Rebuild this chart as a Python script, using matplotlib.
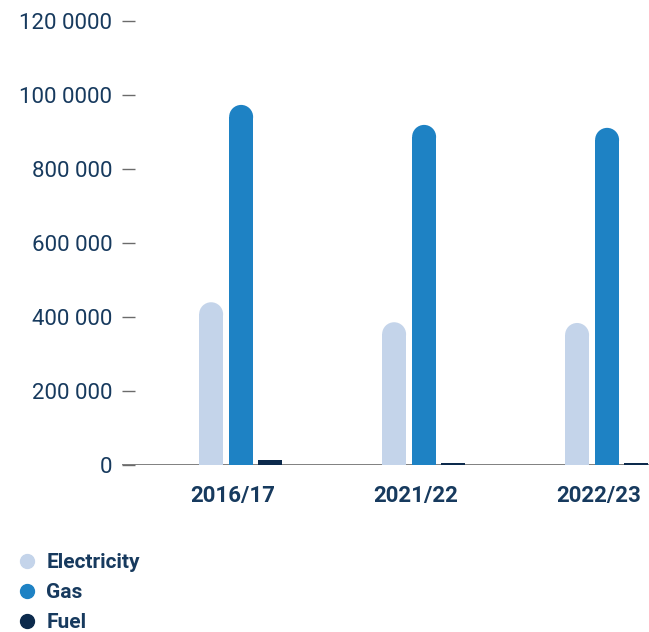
import numpy as np
import matplotlib.pyplot as plt
from matplotlib.patches import Ellipse
from matplotlib.lines import Line2D

plt.rcParams['font.family'] = ['Roboto', 'DejaVu Sans']

years = ['2016/17', '2021/22', '2022/23']
electricity = [440000, 386000, 384000]
gas = [973000, 919000, 911000]
fuel = [14000, 5000, 4500]
yticks = [0, 200000, 400000, 600000, 800000, 1000000, 1200000]
ytick_labels = ['0', '200 000', '400 000', '600 000', '800 000', '100 0000', '120 0000']

text_color = '#173a5e'
c_elec = '#c4d4ea'
c_gas = '#1e82c4'
c_fuel = '#0c2a4c'

fig = plt.figure(figsize=(6.49, 6.32), dpi=100)
ax = fig.add_axes([0.188, 0.264, 0.812, 0.703])

x = np.arange(len(years))
w = 0.131
ymax = 1200000

ax.set_xlim(-0.607, 2.273)
ax.set_ylim(0, ymax)
fig.canvas.draw()
bbox = ax.get_window_extent()
units_per_px = ymax / bbox.height
xunits_per_px = (ax.get_xlim()[1] - ax.get_xlim()[0]) / bbox.width
r = (w / xunits_per_px) / 2 * units_per_px

# bars with a rounded top
def rounded_bars(xs, vals, color):
    for xi, v in zip(xs, vals):
        ax.bar(xi, v - r, width=w, color=color, linewidth=0, zorder=3)
        ax.add_patch(Ellipse((xi, v - r), w, 2 * r, color=color, linewidth=0, zorder=3))

rounded_bars(x - 0.12, electricity, c_elec)
rounded_bars(x + 0.044, gas, c_gas)
ax.bar(x + 0.204, fuel, width=w, color=c_fuel, linewidth=0, zorder=3)

ax.axhline(0, color='#6b6b6b', linewidth=1.2, zorder=2)

for s in ax.spines.values():
    s.set_visible(False)

ax.set_yticks(yticks)
ax.set_yticklabels(ytick_labels)
ax.tick_params(axis='y', direction='in', length=9, width=1, color='#6b6b6b',
               labelcolor=text_color, labelsize=16, pad=7)
ax.set_xticks(x)
ax.set_xticklabels(years, fontweight='bold')
ax.tick_params(axis='x', length=0, labelcolor=text_color, labelsize=16, pad=14)

handles = [Line2D([], [], marker='o', linestyle='none', markersize=10, color=c)
           for c in (c_elec, c_gas, c_fuel)]
leg = fig.legend(handles, ['Electricity', 'Gas', 'Fuel'], loc='upper left',
                 bbox_to_anchor=(0.007, 0.141), frameon=False, fontsize=15,
                 handletextpad=0.3, labelspacing=0.52, borderpad=0, handlelength=1.2)
for t in leg.get_texts():
    t.set_color(text_color)
    t.set_fontweight('bold')

fig.savefig('out.png', dpi=100, facecolor='white')
